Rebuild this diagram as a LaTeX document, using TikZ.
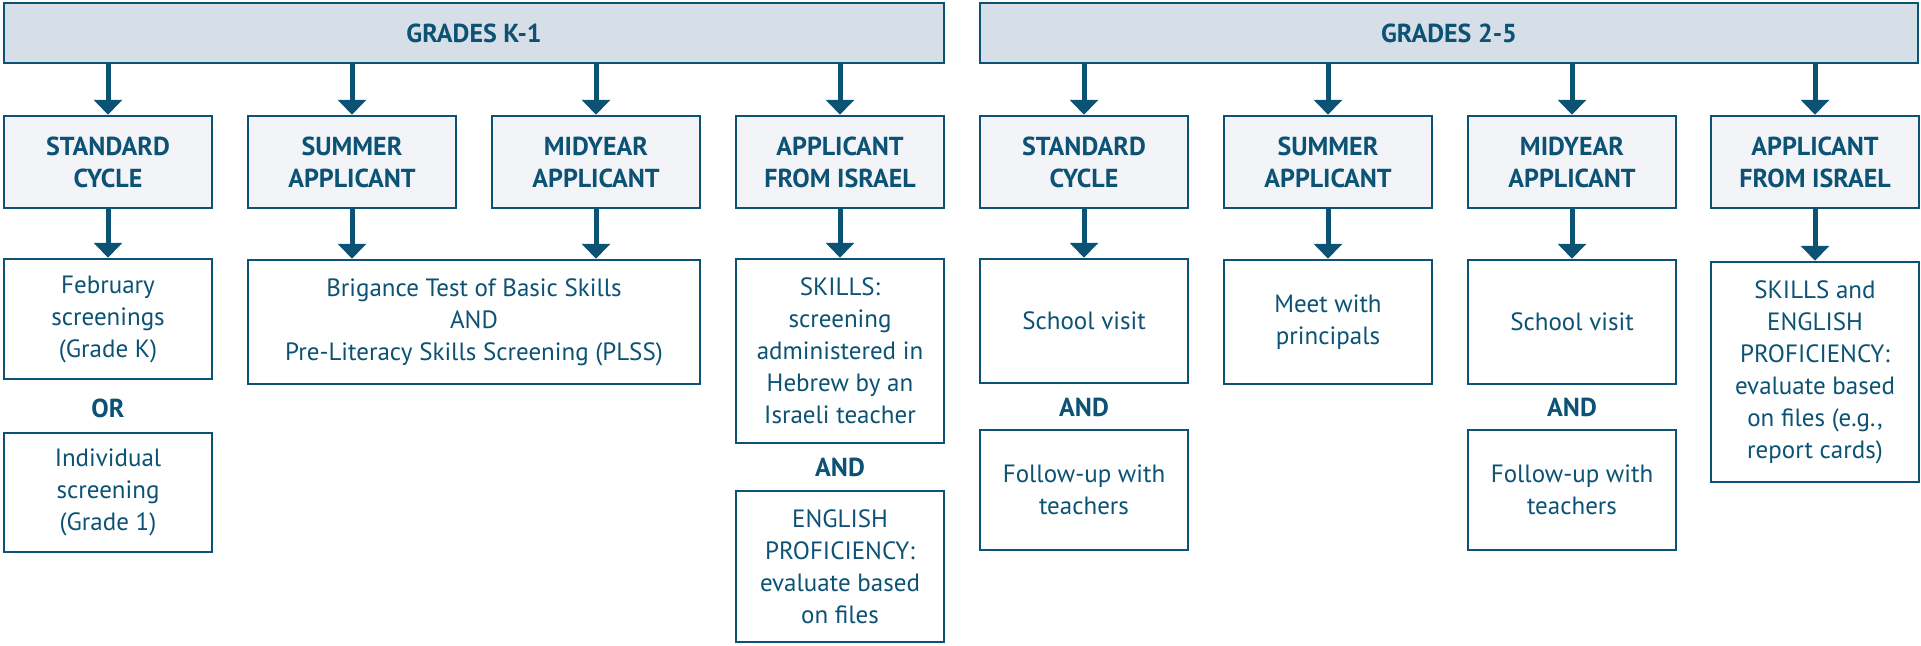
\documentclass[tikz,border=0pt]{standalone}
\usepackage{fontspec}
\setmainfont{PT Sans}
\usetikzlibrary{arrows.meta}
\definecolor{main}{HTML}{0B5275}
\definecolor{headfill}{HTML}{D6DEE7}
\definecolor{catfill}{HTML}{F2F4F8}
\tikzset{
  box/.style={draw=main, line width=2.5pt, rectangle, inner sep=0pt, align=center, text=main,
    font=\fontsize{25}{32}\selectfont},
  head/.style={box, fill=headfill, font=\fontsize{26}{32}\selectfont\bfseries,
    minimum height=60pt},
  cat/.style={box, fill=catfill, font=\fontsize{26}{32}\selectfont\bfseries,
    minimum width=208pt, minimum height=92pt},
  item/.style={box, fill=white, minimum width=208pt},
  conj/.style={text=main, font=\fontsize{26}{32}\selectfont\bfseries, inner sep=0pt},
  arr/.style={draw=main, line width=5pt, -{Triangle[width=28pt,length=15pt]}},
}
\begin{document}
\begin{tikzpicture}[x=1pt, y=-1pt]
\useasboundingbox (0,0) rectangle (1921,645);
% headers
\node[head, minimum width=940pt] (k1) at (474,33) {GRADES K-1};
\node[head, minimum width=938pt] (g25) at (1449,33) {GRADES 2-5};
% categories
\node[cat] (a1) at (108,162) {STANDARD\\CYCLE};
\node[cat] (a2) at (352,162) {SUMMER\\APPLICANT};
\node[cat] (a3) at (596,162) {MIDYEAR\\APPLICANT};
\node[cat] (a4) at (840,162) {APPLICANT\\FROM ISRAEL};
\node[cat] (b1) at (1084,162) {STANDARD\\CYCLE};
\node[cat] (b2) at (1328,162) {SUMMER\\APPLICANT};
\node[cat] (b3) at (1572,162) {MIDYEAR\\APPLICANT};
\node[cat] (b4) at (1815,162) {APPLICANT\\FROM ISRAEL};
% items K-1
\node[item, minimum height=120pt] (feb) at (108,319) {February\\screenings\\(Grade K)};
\node[conj] (or1) at (108,408) {OR};
\node[item, minimum height=119pt] (ind) at (108,492.5) {Individual\\screening\\(Grade 1)};
\node[item, minimum width=452pt, minimum height=124pt] (brig) at (474,322)
  {Brigance Test of Basic Skills\\AND\\Pre-Literacy Skills Screening (PLSS)};
\node[item, minimum height=184pt] (sk1) at (840,351)
  {SKILLS:\\screening\\administered in\\Hebrew by an\\Israeli teacher};
\node[conj] (and1) at (840,467) {AND};
\node[item, minimum height=151pt] (eng) at (840,566.5)
  {ENGLISH\\PROFICIENCY:\\evaluate based\\on files};
% items 2-5
\node[item, minimum height=124pt] (sv1) at (1084,321) {School visit};
\node[conj] (and2) at (1084,407) {AND};
\node[item, minimum height=120pt] (fu1) at (1084,490) {Follow-up with\\teachers};
\node[item, minimum height=124pt] (meet) at (1328,322) {Meet with\\principals};
\node[item, minimum height=124pt] (sv2) at (1572,322) {School visit};
\node[conj] (and3) at (1572,407) {AND};
\node[item, minimum height=120pt] (fu2) at (1572,490) {Follow-up with\\teachers};
\node[item, minimum height=220pt] (sk2) at (1815,372)
  {SKILLS and\\ENGLISH\\PROFICIENCY:\\evaluate based\\on files (e.g.,\\report cards)};
% arrows header -> categories
\foreach \n in {a1,a2,a3,a4} \draw[arr] (k1.south -| \n.north) -- (\n.north);
\foreach \n in {b1,b2,b3,b4} \draw[arr] (g25.south -| \n.north) -- (\n.north);
% arrows categories -> items
\draw[arr] (a1.south) -- (feb.north);
\draw[arr] (a2.south) -- (brig.north -| a2.south);
\draw[arr] (a3.south) -- (brig.north -| a3.south);
\draw[arr] (a4.south) -- (sk1.north);
\draw[arr] (b1.south) -- (sv1.north);
\draw[arr] (b2.south) -- (meet.north);
\draw[arr] (b3.south) -- (sv2.north);
\draw[arr] (b4.south) -- (sk2.north);
\end{tikzpicture}
\end{document}
